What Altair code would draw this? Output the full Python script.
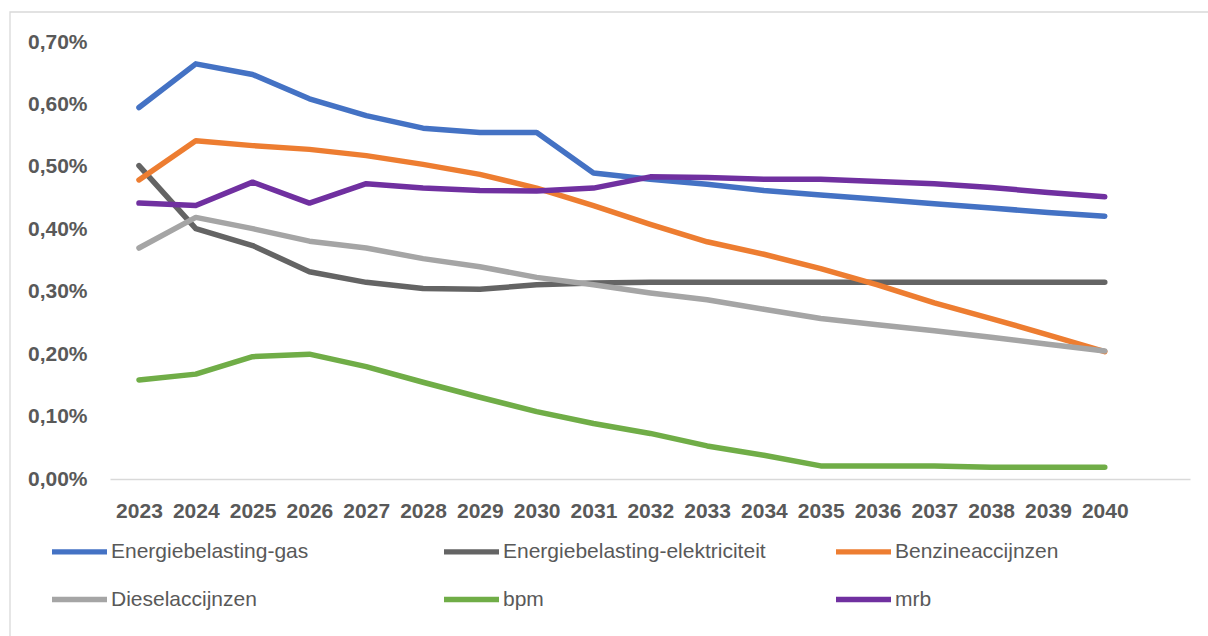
import altair as alt
import pandas as pd

years = list(range(2023, 2041))

series_names = [
    "Energiebelasting-gas",
    "Energiebelasting-elektriciteit",
    "Benzineaccijnzen",
    "Dieselaccijnzen",
    "bpm",
    "mrb",
]
series_colors = ["#4472C4", "#646464", "#ED7D31", "#A5A5A5", "#70AD47", "#7030A0"]

gas = [0.595, 0.665, 0.648, 0.609, 0.582, 0.562, 0.555, 0.555, 0.490, 0.480,
       0.472, 0.462, 0.455, 0.448, 0.441, 0.434, 0.427, 0.421]
elektriciteit = [0.502, 0.401, 0.374, 0.332, 0.315, 0.305, 0.304, 0.311, 0.314, 0.315,
                 0.315, 0.315, 0.315, 0.315, 0.315, 0.315, 0.315, 0.315]
benzine = [0.479, 0.542, 0.534, 0.528, 0.518, 0.504, 0.488, 0.466, 0.438, 0.408,
           0.380, 0.360, 0.337, 0.311, 0.282, 0.257, 0.231, 0.204]
diesel = [0.370, 0.419, 0.401, 0.381, 0.370, 0.353, 0.340, 0.323, 0.311, 0.298,
          0.287, 0.272, 0.257, 0.247, 0.2375, 0.227, 0.216, 0.205]
bpm = [0.1585, 0.168, 0.196, 0.200, 0.180, 0.155, 0.131, 0.108, 0.089, 0.073,
       0.053, 0.038, 0.021, 0.021, 0.021, 0.019, 0.019, 0.019]
mrb = [0.442, 0.438, 0.4755, 0.442, 0.473, 0.466, 0.462, 0.4615, 0.466, 0.484,
       0.483, 0.480, 0.480, 0.4765, 0.473, 0.467, 0.459, 0.452]

y_ticks = [0.0, 0.1, 0.2, 0.3, 0.4, 0.5, 0.6, 0.7]

all_values = [gas, elektriciteit, benzine, diesel, bpm, mrb]
rows = []
for name, vals in zip(series_names, all_values):
    for yr, v in zip(years, vals):
        rows.append({"jaar": yr, "waarde": v, "reeks": name})
df = pd.DataFrame(rows)

FONT = "Liberation Sans"
LABEL_COLOR = "#595959"

lines = alt.Chart(df).mark_line(
    strokeWidth=5.5, strokeCap="round", strokeJoin="round"
).encode(
    x=alt.X(
        "jaar:Q",
        scale=alt.Scale(domain=[2022.49, 2041.5], nice=False, zero=False),
        axis=alt.Axis(
            values=years, format="d", title=None, grid=False, ticks=False,
            domain=True, domainColor="#D9D9D9", domainWidth=1.5,
            labelFont=FONT, labelFontWeight="bold", labelFontSize=21,
            labelColor=LABEL_COLOR, labelPadding=21, labelOverlap=False,
            labelFlush=False,
        ),
    ),
    y=alt.Y(
        "waarde:Q",
        scale=alt.Scale(domain=[0, 0.7], nice=False, zero=True),
        axis=alt.Axis(
            values=y_ticks, title=None, grid=False, ticks=False, domain=False,
            labelExpr="replace(format(datum.value, '.2f'), '.', ',') + '%'",
            labelFont=FONT, labelFontWeight="bold", labelFontSize=21,
            labelColor=LABEL_COLOR, labelPadding=23, labelOverlap=False,
        ),
    ),
    color=alt.Color(
        "reeks:N",
        scale=alt.Scale(domain=series_names, range=series_colors),
        legend=alt.Legend(
            orient="none", legendX=-61, legendY=479, title=None, columns=3,
            direction="horizontal",
            symbolType="stroke", symbolSize=3025, symbolStrokeWidth=5.3,
            labelFont=FONT, labelFontSize=21, labelColor=LABEL_COLOR,
            labelOffset=1, columnPadding=59, rowPadding=6, gridAlign="all",
            padding=0, labelLimit=600,
        ),
    ),
    detail="reeks:N",
)

border = alt.Chart(alt.Data(values=[{}])).mark_rect(
    fill="transparent", stroke="#D9D9D9", strokeWidth=1.3
).encode(
    x=alt.value(-100), x2=alt.value(1300), y=alt.value(-30), y2=alt.value(800)
)

chart = alt.layer(border, lines).properties(
    width=1080,
    height=437,
    padding={"left": 110, "top": 42, "right": 18, "bottom": 157},
    autosize=alt.AutoSizeParams(type="none"),
    background="white",
).configure_view(stroke=None)

chart.save("out.html", embed_options={"renderer": "svg", "actions": False})
